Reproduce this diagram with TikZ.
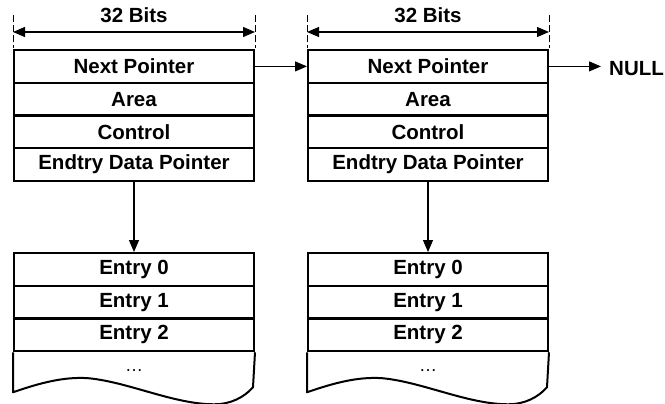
\documentclass[tikz,border=0pt]{standalone}
\usepackage{fontspec}
\setmainfont{Liberation Sans}
\usetikzlibrary{arrows.meta}
\begin{document}
\begin{tikzpicture}[x=1pt,y=-1pt,
  row/.style={draw,line width=2pt,minimum width=240pt,minimum height=32.75pt,inner sep=0pt,font=\fontsize{20.5}{22}\selectfont\bfseries},
  lbl/.style={font=\fontsize{20.5}{22}\selectfont\bfseries,inner sep=0pt},
  conn/.style={line width=1.1pt,-{Triangle[length=12pt,width=10pt]}},
  dim/.style={line width=1.1pt,{Triangle[length=12pt,width=10pt]}-{Triangle[length=12pt,width=10pt]}},
  ext/.style={line width=0.8pt,dash pattern=on 7pt off 3pt}]
\useasboundingbox (0,0) rectangle (665,404);
\foreach \cx/\p in {134/a,428/b}{
  % header rows
  \node[row] (\p np) at (\cx,66.4) {Next Pointer};
  \node[row] (\p ar) at (\cx,99.1) {Area};
  \node[row] (\p ct) at (\cx,131.9) {Control};
  \node[row] (\p ep) at (\cx,164.6) {Endtry Data Pointer};
  % entries
  \node[row] (\p e0) at (\cx,269.4) {Entry 0};
  \node[row] (\p e1) at (\cx,302.1) {Entry 1};
  \node[row] (\p e2) at (\cx,334.9) {Entry 2};
  \node[inner sep=0pt,font=\fontsize{18}{20}\selectfont] (\p dots) at (\cx,371) {\dots};
  % dimension
  \node[lbl] (\p bits) at (\cx,15) {32 Bits};
  \coordinate (\p l1) at (\p np.north west |- 0,15);
  \coordinate (\p r1) at (\p np.north east |- 0,15);
  \draw[ext] (\p l1) -- (\p np.north west |- 0,48);
  \draw[ext] (\p r1) -- (\p np.north east |- 0,48);
  \coordinate (\p dl) at (\p np.north west |- 0,32);
  \coordinate (\p dr) at (\p np.north east |- 0,32);
  \draw[dim] (\p dl) -- (\p dr);
  % torn bottom
  \draw[line width=2pt,line join=round]
    (\p e2.south west) -- ++(0,40)
    .. controls ++(26,-9) and ++(-25,-2) .. ++(76,-14)
    .. controls ++(40,4) and ++(-40,0) .. ++(125,26)
    .. controls ++(17,0) and ++(-9,10) .. ++(39,-17)
    -- (\p e2.south east);
  % pointer to entries
  \draw[conn] (\p ep.south) -- (\p e0.north);
}
\draw[conn] (anp.east) -- (bnp.west);
\node[lbl,anchor=west] (null) at (609,69) {NULL};
\draw[conn] (bnp.east) -- (bnp.east -| 601,0);
\end{tikzpicture}
\end{document}
